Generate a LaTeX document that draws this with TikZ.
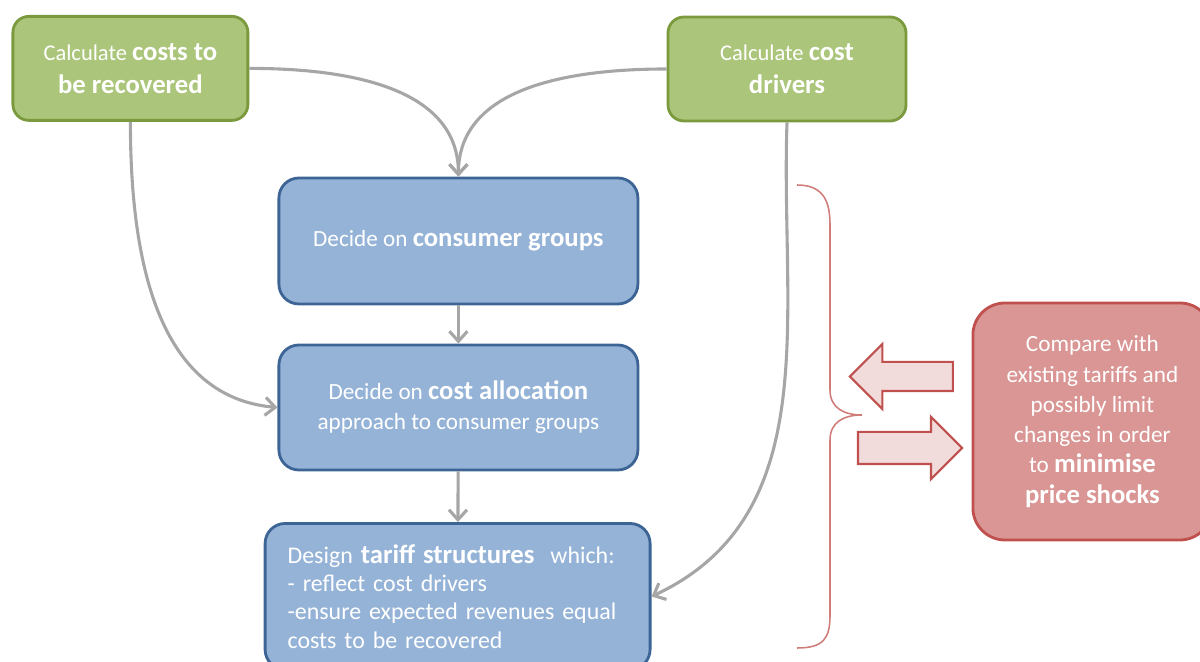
\documentclass[tikz,border=0pt]{standalone}
\usepackage{fontspec}
\setmainfont{Carlito}
\usepackage[svgnames]{xcolor}
\usepackage{tikz}
\usetikzlibrary{arrows.meta,shapes.arrows}

\definecolor{leafgreen}{HTML}{ABC57A}
\definecolor{leafgreenline}{HTML}{7A9A3D}
\definecolor{skyblue}{HTML}{95B3D7}
\definecolor{skyblueline}{HTML}{3C6494}
\definecolor{rosered}{HTML}{D99694}
\definecolor{roseredline}{HTML}{C0504D}
\definecolor{rosepale}{HTML}{F2DCDB}
\definecolor{linkgray}{HTML}{A6A6A6}

\newcommand{\bigbold}[1]{{\fontsize{19}{23}\selectfont\bfseries #1}}

\begin{document}
\begin{tikzpicture}[
    box/.style={line width=2pt,text=white,align=center,inner sep=0pt},
    greenbox/.style={box,rounded corners=4mm,fill=leafgreen,draw=leafgreenline,
      minimum height=2.6cm,font=\fontsize{16}{23.4}\selectfont},
    bluebox/.style={box,rounded corners=5mm,fill=skyblue,draw=skyblueline,
      font=\fontsize{16.5}{21.3}\selectfont},
    redbox/.style={box,rounded corners=8mm,fill=rosered,draw=roseredline,
      font=\fontsize{16.5}{21.5}\selectfont},
    link/.style={draw=linkgray,line width=2.2pt,
      -{Straight Barb[length=2.5mm,width=4.5mm]}},
    fatarrow/.style={single arrow,draw=roseredline,fill=rosepale,line width=1.5pt,
      inner xsep=0pt,single arrow head indent=0pt}
  ]
  \coordinate (A) at (0,0); \coordinate (B) at (30,16.55);
  \path[use as bounding box] (A) rectangle (B);
  \clip (A) rectangle (B);

  \node[greenbox,minimum width=5.875cm] (costs) at (3.26,14.84)
    {Calculate \bigbold{costs to}\\\bigbold{be recovered}};
  \node[greenbox,minimum width=5.95cm] (drivers) at (19.675,14.825)
    {Calculate \bigbold{cost}\\\bigbold{drivers}};

  \node[bluebox,minimum width=8.975cm,minimum height=3.15cm] (groups) at (11.46,10.525)
    {Decide on \bigbold{consumer groups}};
  \node[bluebox,minimum width=8.975cm,minimum height=3.125cm] (alloc) at (11.46,6.3625)
    {Decide on \bigbold{cost allocation}\\approach to consumer groups};
  \node[bluebox,minimum width=9.625cm,minimum height=3.65cm,align=left,
    text width=8.5cm,font=\fontsize{17}{20.2}\selectfont] (tariff) at (11.44,1.6375)
    {Design \bigbold{tariff structures}\ \ which:\\- reflect cost drivers\\
     -ensure expected revenues equal\\costs to be recovered};

  \node[redbox,minimum width=5.975cm,minimum height=5.925cm] (compare) at (27.31,6.0125)
    {Compare with\\existing tariffs and\\possibly limit\\changes in order\\
     to \bigbold{minimise}\\\bigbold{price shocks}};

  \node[fatarrow,shape border rotate=180,minimum height=2.575cm,inner ysep=0.3375cm,
    single arrow head extend=0.45cm] (back) at (22.715,7.1375) {};
  \node[fatarrow,minimum height=2.6cm,inner ysep=0.375cm,
    single arrow head extend=0.375cm] (forth) at (22.55,5.35) {};

  \draw[draw=roseredline!75,line width=1.1pt]
    (19.925,11.925) .. controls (20.6,11.925) and (20.75,11.5) .. (20.75,10.925)
    -- (20.75,6.8) .. controls (20.75,6.35) and (21.1,6.175) .. (21.55,6.175)
    .. controls (21.1,6.175) and (20.75,6.0) .. (20.75,5.55)
    -- (20.75,1.175) .. controls (20.75,0.6) and (20.6,0.35) .. (19.925,0.35);

  \draw[link] (costs.east) to[out=0,in=90] (groups.north);
  \draw[link] (drivers.west) to[out=180,in=90] (groups.north);
  \draw[link] (costs.south) to[out=-90,in=175] (alloc.west);
  \draw[link] (drivers.south) to[out=-92,in=25] (tariff.east);
  \draw[link] (groups) -- (alloc);
  \draw[link] (alloc) -- (tariff);
\end{tikzpicture}
\end{document}
